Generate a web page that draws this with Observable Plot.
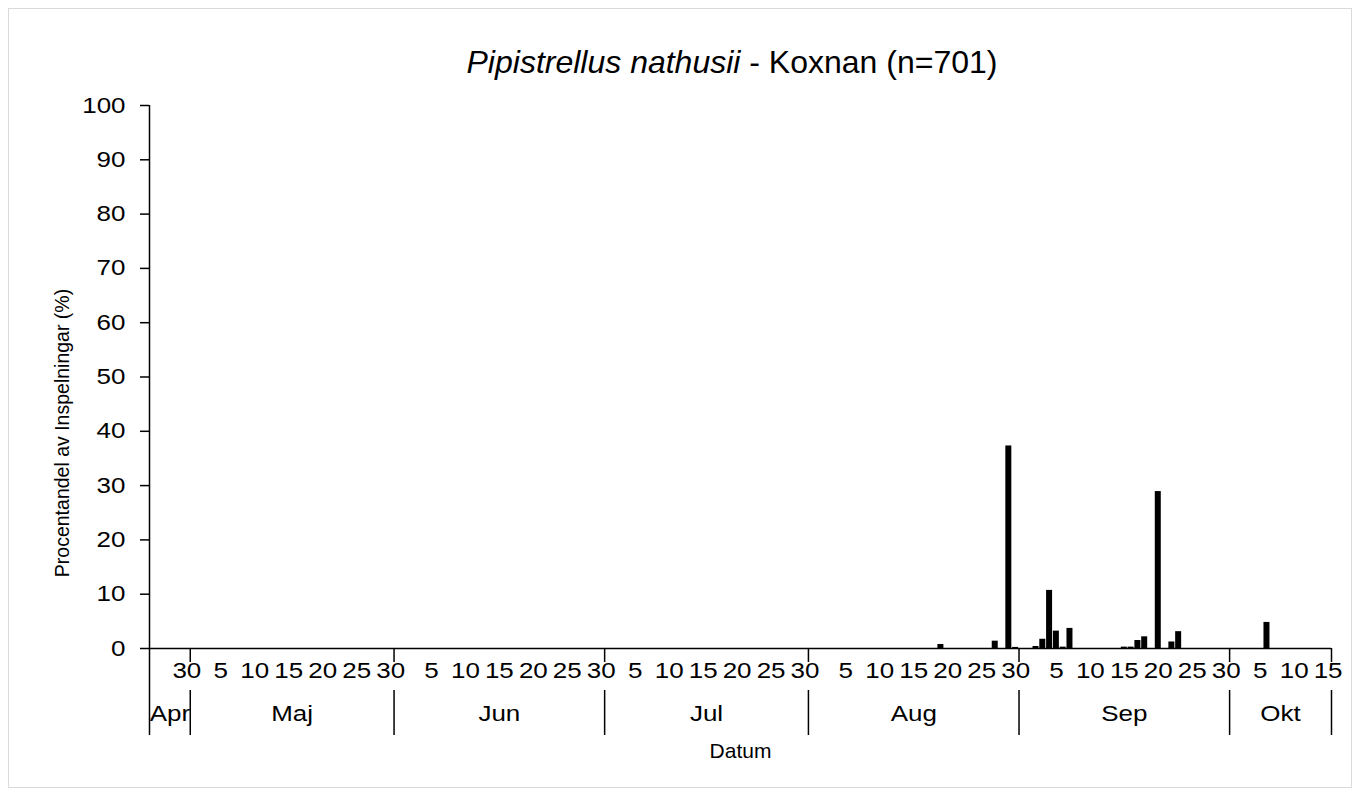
<!DOCTYPE html>
<html>
<head>
<meta charset="utf-8">
<script src="https://cdn.jsdelivr.net/npm/d3@7"></script>
<script src="https://cdn.jsdelivr.net/npm/@observablehq/plot@0.6"></script>
<style>
  body { margin: 0; background: #fff; font-family: "Liberation Sans", Arial, sans-serif; }
  #wrap { position: relative; width: 1360px; height: 796px; overflow: hidden; background: #fff; }
  #frame { position: absolute; left: 8px; top: 8px; width: 1344px; height: 780px; border: 1px solid #d9d9d9; box-sizing: border-box; }
  #chart { position: absolute; left: 0; top: 0; }
  #title { position: absolute; left: 52px; top: 43px; width: 1360px; text-align: center; font-size: 32px; line-height: 38px; color: #000; white-space: nowrap; }
</style>
</head>
<body>
<div id="wrap">
  <div id="frame"></div>
  <div id="chart"></div>
  <div id="title"><i>Pipistrellus nathusii</i> - Koxnan (n=701)</div>
</div>
<script>
// ---- data ----
const barDates = ["2021-08-19","2021-08-27","2021-08-29","2021-08-30","2021-09-02","2021-09-03","2021-09-04","2021-09-05","2021-09-06","2021-09-07","2021-09-15","2021-09-16","2021-09-17","2021-09-18","2021-09-20","2021-09-22","2021-09-23","2021-10-06"];
const barValues = [0.74, 1.35, 37.3, 0.2, 0.37, 1.7, 10.7, 3.2, 0.25, 3.7, 0.25, 0.25, 1.47, 2.15, 28.9, 1.2, 3.1, 4.8];

const monthNames = ["Apr","Maj","Jun","Jul","Aug","Sep","Okt"];
// group boundaries of the category axis (start of first day after each group)
const monthBoundaries = ["2021-04-25","2021-05-01","2021-05-31","2021-07-01","2021-07-31","2021-08-31","2021-10-01","2021-10-16"];
const yTicks = [0,10,20,30,40,50,60,70,80,90,100];
const dayLabelMonths = [5,6,7,8,9];
const dayLabelDays = [5,10,15,20,25,30];
const octLabelDays = [5,10,15];
const xTitle = "Datum";
const yTitle = "Procentandel av Inspelningar (%)";

// ---- build tables ----
const parse = d3.utcParse("%Y-%m-%d");
const bars = barDates.map((d, i) => ({date: parse(d), value: barValues[i]}));
const bounds = monthBoundaries.map(parse);
const months = monthNames.map((m, i) => ({name: m, a: bounds[i], b: bounds[i + 1]}));
const dayLabels = [{date: Date.UTC(2021, 3, 30), label: "30"}];
for (const m of dayLabelMonths) for (const d of dayLabelDays) dayLabels.push({date: Date.UTC(2021, m - 1, d), label: String(d)});
for (const d of octLabelDays) dayLabels.push({date: Date.UTC(2021, 9, d), label: String(d)});
const halfDay = 12 * 3600 * 1000;

const fs = 22;
const chart = Plot.plot({
  width: 1360,
  height: 796,
  marginLeft: 149,
  marginRight: 29,
  marginTop: 105,
  marginBottom: 148,
  style: {fontFamily: "'Liberation Sans', Arial, sans-serif", fontSize: fs + "px", color: "#000", background: "transparent"},
  x: {type: "utc", domain: [bounds[0], bounds[bounds.length - 1]], axis: null},
  y: {domain: [0, 100], axis: null},
  marks: [
    Plot.rect(bars, {x1: "date", x2: d => d3.utcDay.offset(d.date, 1), y1: 0, y2: "value", fill: "#000", insetLeft: 0.4, insetRight: 0.4}),
    Plot.axisY({ticks: yTicks, tickSize: 9, tickPadding: 15, fontSize: fs, label: null, stroke: "#000", strokeWidth: 1.5}),
    Plot.ruleY([0], {stroke: "#000", strokeWidth: 1.5}),
    Plot.ruleX([bounds[0]], {stroke: "#000", strokeWidth: 1.5, insetBottom: -87}),
    Plot.ruleX(bounds.slice(1), {stroke: "#000", strokeWidth: 1.5, insetTop: 543, insetBottom: -14}),
    Plot.ruleX(bounds.slice(1), {stroke: "#000", strokeWidth: 1.5, insetTop: 585, insetBottom: -87}),
    Plot.text(dayLabels, {x: d => new Date(+d.date + halfDay), text: "label", frameAnchor: "bottom", dy: 29, fontSize: fs, fill: "#000"}),
    Plot.text(months, {x: d => new Date((+d.a + +d.b) / 2), text: "name", frameAnchor: "bottom", dy: 72, fontSize: fs, fill: "#000"}),
    Plot.text([xTitle], {frameAnchor: "bottom", dy: 109, fontSize: 21, fill: "#000"}),
    Plot.text([yTitle], {frameAnchor: "left", textAnchor: "middle", dx: -87, dy: 56, rotate: -90, fontSize: 19.5, fill: "#000"})
  ]
});
document.getElementById("chart").appendChild(chart);
// widen the tick-label glyphs horizontally to match the reference proportions
d3.select(chart).selectAll("text").each(function() {
  const t = this.textContent;
  if (t === xTitle || t === yTitle) return;
  const len = this.getComputedTextLength();
  this.setAttribute("textLength", (len * 1.18).toFixed(1));
  this.setAttribute("lengthAdjust", "spacingAndGlyphs");
});
</script>
</body>
</html>
